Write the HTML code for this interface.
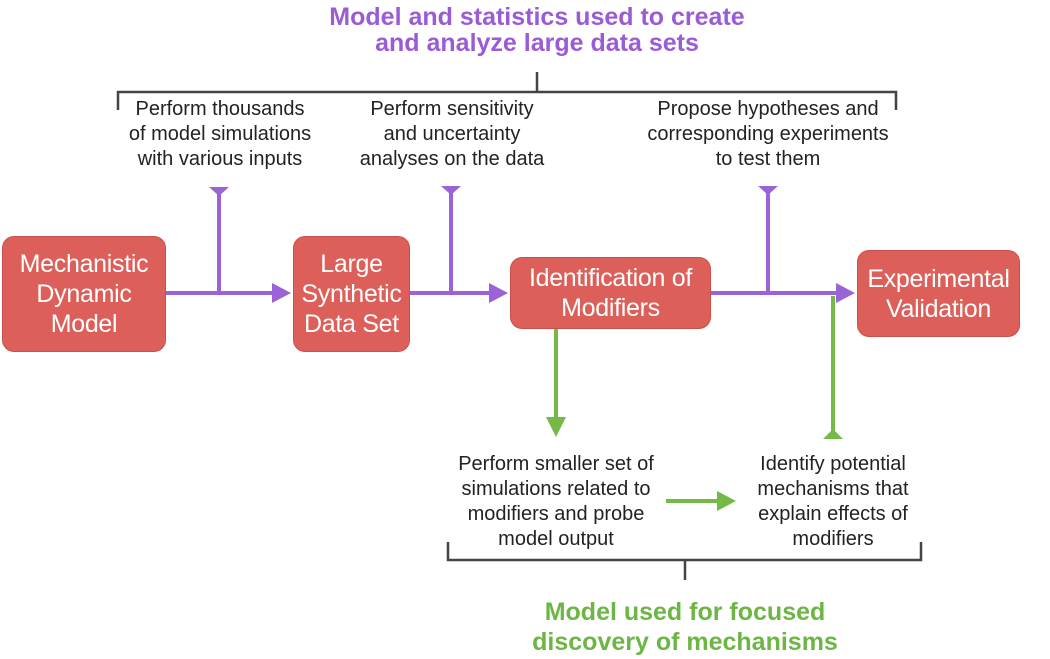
<!DOCTYPE html>
<html><head><meta charset="utf-8"><style>
body{margin:0;width:1050px;height:659px;background:#fff;position:relative;overflow:hidden;font-family:"Liberation Sans",sans-serif}
.t{position:absolute;text-align:center;color:#222;font-size:20px;line-height:25px;white-space:nowrap;transform:translateX(-50%)}
.h{position:absolute;text-align:center;font-weight:bold;font-size:25px;line-height:26px;white-space:nowrap;transform:translateX(-50%)}
.b{position:absolute;background:#dc6059;border:1px solid #c9504a;border-radius:12px;color:#fff;font-size:25px;line-height:30px;display:flex;align-items:center;justify-content:center;text-align:center;box-sizing:border-box;white-space:nowrap;letter-spacing:-0.3px}
</style></head><body>
<svg width="1050" height="659" style="position:absolute;left:0;top:0">
<g stroke="#444" stroke-width="2.5" fill="none">
<polyline points="118,110 118,92 896,92 896,110"/>
<line x1="537" y1="72" x2="537" y2="92"/>
<polyline points="448,542 448,560 921,560 921,542"/>
<line x1="685" y1="560" x2="685" y2="580"/>
</g>
<g stroke="#9b64d6" stroke-width="4" fill="#9b64d6">
<line x1="166" y1="293" x2="275" y2="293"/><polygon points="272,283 291,293 272,303" stroke="none"/>
<line x1="219" y1="293" x2="219" y2="188"/><polygon points="209,187 229,187 219,196" stroke="none"/>
<line x1="410" y1="293" x2="492" y2="293"/><polygon points="489,283 508,293 489,303" stroke="none"/>
<line x1="451" y1="293" x2="451" y2="187"/><polygon points="441,186 461,186 451,195" stroke="none"/>
<line x1="711" y1="293" x2="838" y2="293"/><polygon points="836,283 855,293 836,303" stroke="none"/>
<line x1="768" y1="293" x2="768" y2="187"/><polygon points="758,186 778,186 768,195" stroke="none"/>
</g>
<g stroke="#75b947" stroke-width="4" fill="#75b947">
<line x1="556" y1="329" x2="556" y2="420"/><polygon points="546,417 566,417 556,437" stroke="none"/>
<line x1="833" y1="296" x2="833" y2="437"/><polygon points="823,439 843,439 833,429" stroke="none"/>
<line x1="666" y1="501" x2="722" y2="501"/><polygon points="717,491 736,501 717,511" stroke="none"/>
</g>
</svg>
<div class="h" style="left:537px;top:4px;color:#9b5bd6">Model and statistics used to create<br>and analyze large data sets</div>
<div class="t" style="left:220px;top:97px">Perform thousands<br>of model simulations<br>with various inputs</div>
<div class="t" style="left:452px;top:97px">Perform sensitivity<br>and uncertainty<br>analyses on the data</div>
<div class="t" style="left:768px;top:97px">Propose hypotheses and<br>corresponding experiments<br>to test them</div>
<div class="b" style="left:2px;top:236px;width:164px;height:116px">Mechanistic<br>Dynamic<br>Model</div>
<div class="b" style="left:293px;top:236px;width:117px;height:116px">Large<br>Synthetic<br>Data Set</div>
<div class="b" style="left:510px;top:257px;width:201px;height:72px">Identification of<br>Modifiers</div>
<div class="b" style="left:857px;top:250px;width:163px;height:87px">Experimental<br>Validation</div>
<div class="t" style="left:556px;top:452px">Perform smaller set of<br>simulations related to<br>modifiers and probe<br>model output</div>
<div class="t" style="left:833px;top:452px">Identify potential<br>mechanisms that<br>explain effects of<br>modifiers</div>
<div class="h" style="left:685px;top:597px;color:#6db544;line-height:30px">Model used for focused<br>discovery of mechanisms</div>
</body></html>
